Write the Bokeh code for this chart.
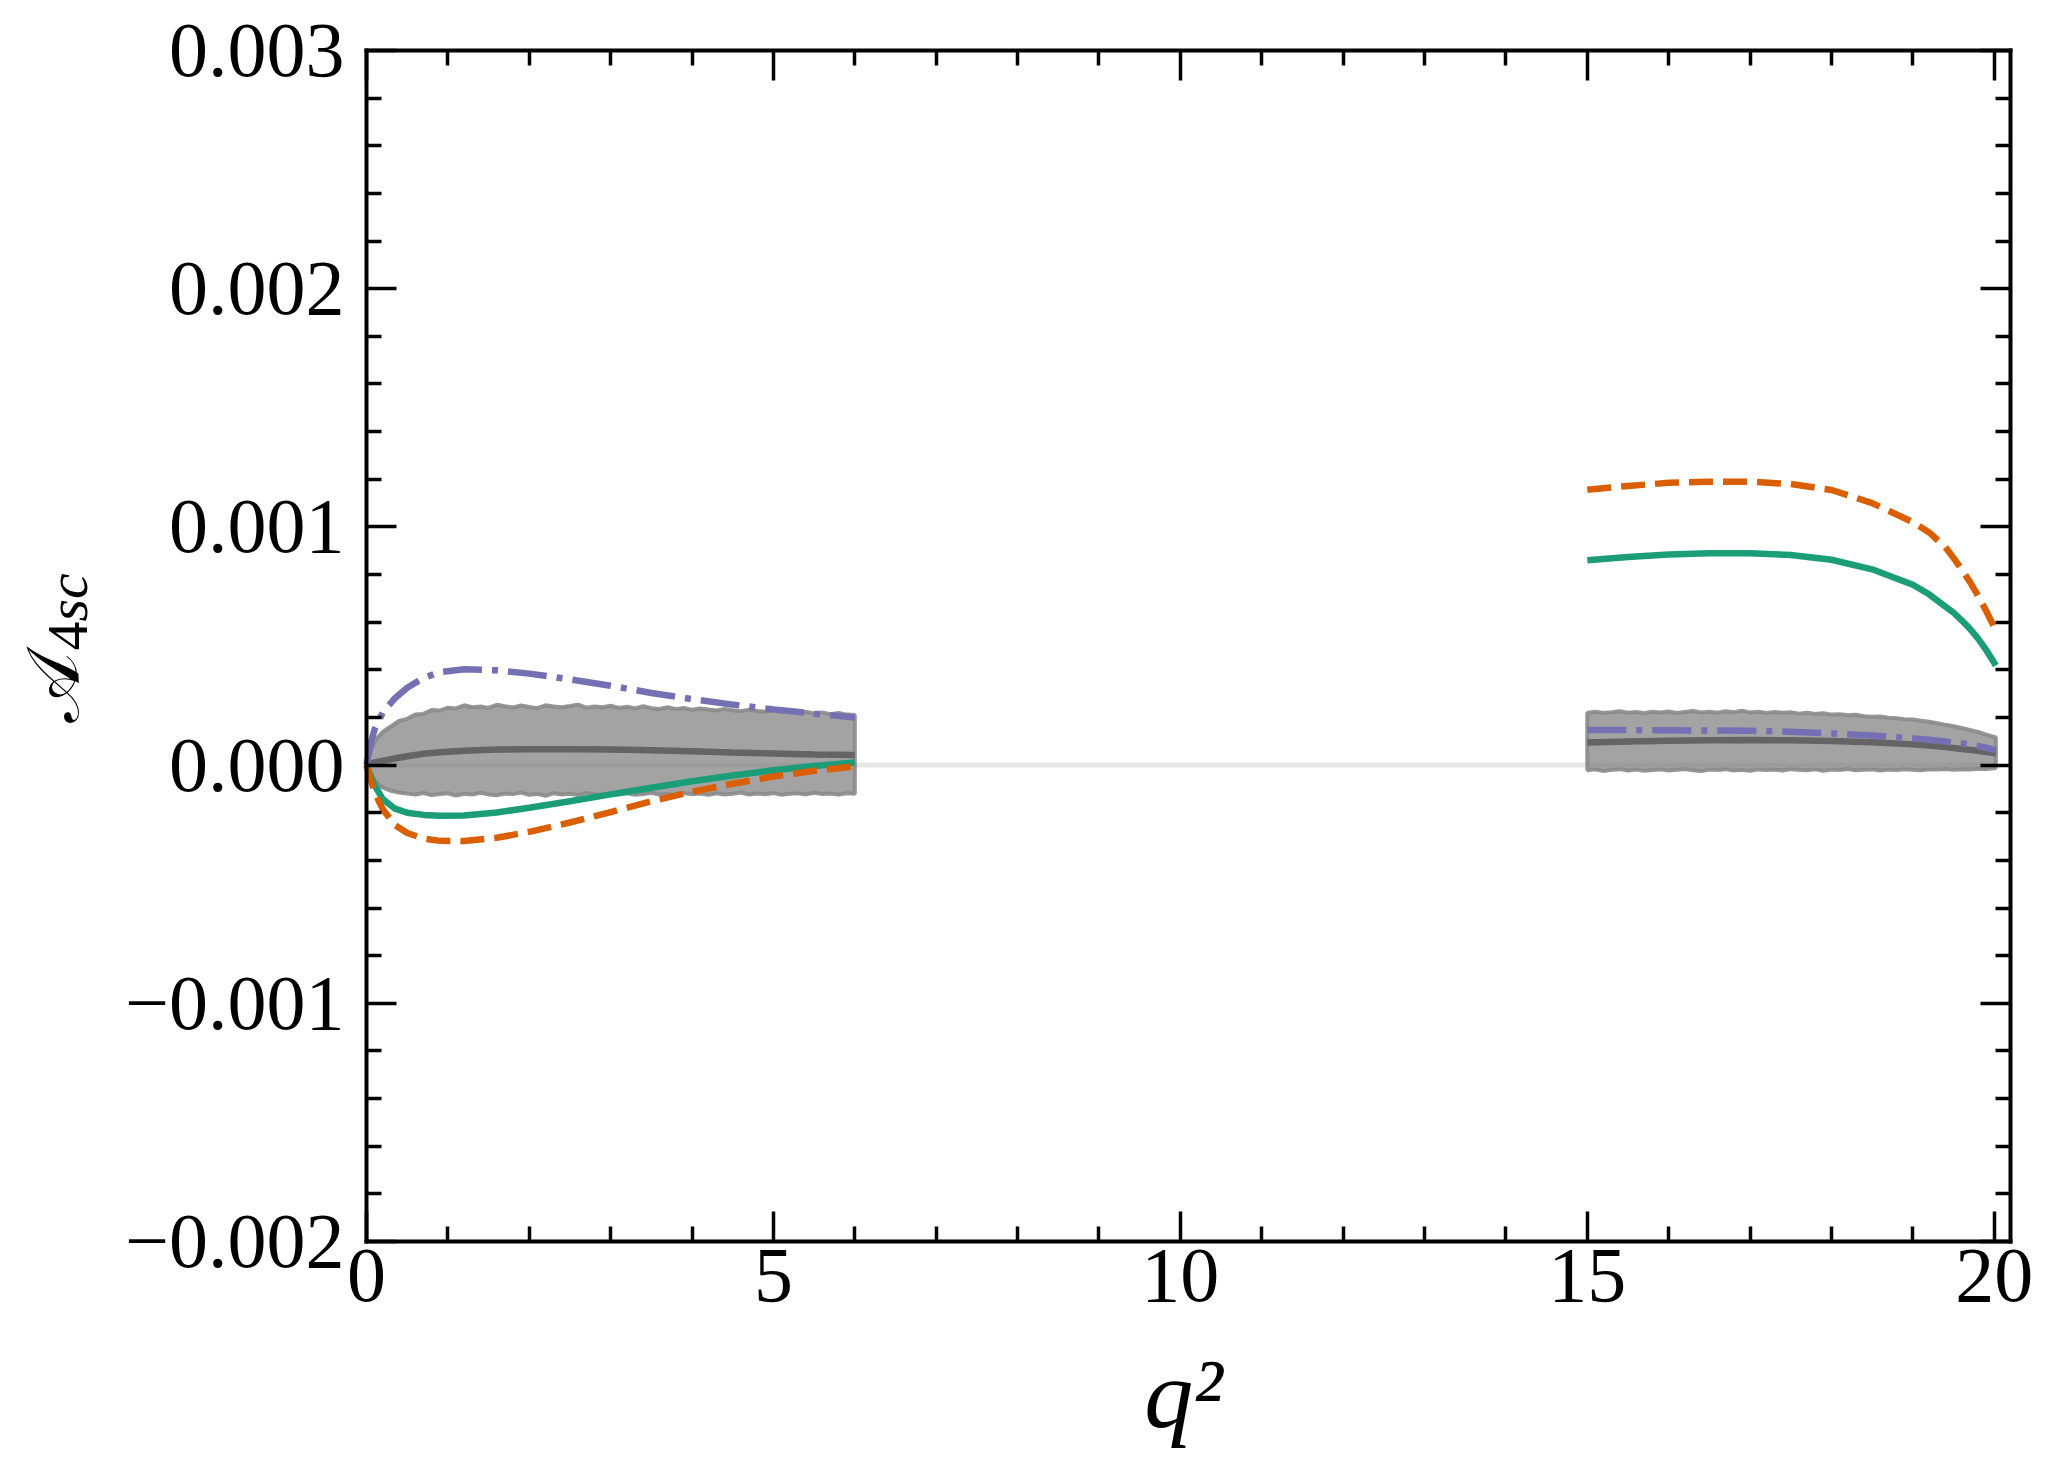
import math
from bokeh.plotting import figure
from bokeh.models import LinearAxis, FixedTicker, CustomJSTickFormatter, Range1d
from bokeh.core.properties import value
from bokeh.embed import file_html
from bokeh.resources import INLINE

# ---------------- data (asymmetry values in units of 1e-3) ----------------
q_low = [0.0, 0.05, 0.1, 0.2, 0.35, 0.5, 0.7, 0.9, 1.2, 1.6, 2.0, 2.5, 3.0, 3.5, 4.0, 4.5, 5.0, 5.5, 6.0]
purple_low = [0.0, 0.09, 0.15, 0.221, 0.281, 0.325, 0.366, 0.390, 0.402, 0.398, 0.384, 0.360, 0.333, 0.303,
              0.277, 0.254, 0.234, 0.216, 0.200]
green_low = [0.0, -0.045, -0.085, -0.143, -0.183, -0.200, -0.209, -0.213, -0.212, -0.199, -0.179, -0.152,
             -0.123, -0.095, -0.068, -0.044, -0.022, -0.004, 0.011]
orange_low = [0.0, -0.06, -0.115, -0.185, -0.252, -0.285, -0.308, -0.318, -0.319, -0.305, -0.280, -0.241,
              -0.197, -0.152, -0.112, -0.078, -0.048, -0.024, -0.005]
central_low = [0.0, 0.006, 0.011, 0.018, 0.028, 0.037, 0.048, 0.054, 0.060, 0.065, 0.067, 0.067, 0.065,
               0.062, 0.058, 0.053, 0.049, 0.045, 0.042]

q_band_low = [0.0, 0.05, 0.1, 0.15, 0.2, 0.3, 0.4, 0.5,
              0.6, 0.7, 0.8, 0.9, 1.0, 1.1, 1.2, 1.3, 1.4, 1.5, 1.6, 1.7, 1.8, 1.9, 2.0,
              2.1, 2.2, 2.3, 2.4, 2.5, 2.6, 2.7, 2.8, 2.9, 3.0, 3.1, 3.2, 3.3, 3.4, 3.5,
              3.6, 3.7, 3.8, 3.9, 4.0, 4.1, 4.2, 4.3, 4.4, 4.5, 4.6, 4.7, 4.8, 4.9, 5.0,
              5.1, 5.2, 5.3, 5.4, 5.5, 5.6, 5.7, 5.8, 5.9, 6.0]
band_low_up = [0.0, 0.058, 0.098, 0.121, 0.139, 0.162, 0.185, 0.194,
               0.212, 0.215, 0.231, 0.229, 0.241, 0.238, 0.251, 0.243, 0.246, 0.240, 0.253, 0.247, 0.242,
               0.250, 0.244, 0.239, 0.251, 0.246, 0.243, 0.248, 0.254, 0.241, 0.246, 0.243, 0.249, 0.240,
               0.245, 0.238, 0.247, 0.239, 0.236, 0.243, 0.235, 0.240, 0.232, 0.238, 0.233, 0.229, 0.236,
               0.230, 0.226, 0.233, 0.227, 0.224, 0.230, 0.222, 0.226, 0.219, 0.224, 0.217, 0.221, 0.214,
               0.219, 0.212, 0.210]
band_low_dn = [0.0, -0.040, -0.065, -0.082, -0.094, -0.108, -0.115, -0.119,
               -0.124, -0.117, -0.126, -0.121, -0.118, -0.128, -0.120, -0.124, -0.116, -0.123, -0.127,
               -0.119, -0.122, -0.115, -0.125, -0.121, -0.129, -0.118, -0.123, -0.120, -0.126, -0.117,
               -0.122, -0.127, -0.119, -0.124, -0.118, -0.125, -0.121, -0.116, -0.124, -0.120, -0.126,
               -0.117, -0.122, -0.119, -0.125, -0.118, -0.123, -0.120, -0.115, -0.124, -0.119, -0.122,
               -0.117, -0.125, -0.120, -0.118, -0.123, -0.116, -0.121, -0.119, -0.124, -0.118, -0.120]

q_high = [15.0, 15.5, 16.0, 16.5, 17.0, 17.5, 18.0, 18.5, 19.0, 19.2, 19.4, 19.5, 19.6, 19.7, 19.8, 19.9,
          20.02]
orange_high = [1.156, 1.172, 1.185, 1.190, 1.190, 1.180, 1.155, 1.100, 1.020, 0.977, 0.915, 0.870, 0.822,
               0.770, 0.712, 0.648, 0.565]
green_high = [0.860, 0.874, 0.884, 0.889, 0.889, 0.882, 0.862, 0.822, 0.757, 0.717, 0.665, 0.640, 0.608,
              0.573, 0.532, 0.484, 0.418]
purple_high = [0.147, 0.147, 0.146, 0.145, 0.144, 0.140, 0.133, 0.124, 0.112, 0.106, 0.099, 0.095, 0.091,
               0.086, 0.080, 0.073, 0.062]
central_high = [0.095, 0.099, 0.102, 0.104, 0.105, 0.104, 0.101, 0.096, 0.087, 0.082, 0.076, 0.072, 0.068,
                0.064, 0.060, 0.055, 0.050]

q_band_high = [15.0, 15.1, 15.2, 15.3, 15.4, 15.5, 15.6, 15.7, 15.8, 15.9, 16.0, 16.1, 16.2, 16.3, 16.4,
               16.5, 16.6, 16.7, 16.8, 16.9, 17.0, 17.1, 17.2, 17.3, 17.4, 17.5, 17.6, 17.7, 17.8, 17.9,
               18.0, 18.1, 18.2, 18.3, 18.4, 18.5, 18.6, 18.7, 18.8, 18.9, 19.0, 19.1, 19.2, 19.3, 19.4,
               19.5, 19.6, 19.7, 19.8, 19.9, 20.02]
band_high_up = [0.220, 0.224, 0.219, 0.222, 0.226, 0.220, 0.223, 0.218, 0.224, 0.221, 0.225, 0.219, 0.223,
                0.227, 0.221, 0.224, 0.220, 0.226, 0.222, 0.228, 0.221, 0.224, 0.219, 0.223, 0.220, 0.222,
                0.216, 0.220, 0.215, 0.218, 0.212, 0.214, 0.209, 0.211, 0.205, 0.203, 0.204, 0.199, 0.197,
                0.193, 0.191, 0.186, 0.182, 0.176, 0.169, 0.163, 0.156, 0.148, 0.139, 0.128, 0.116]
band_high_dn = [-0.022, -0.018, -0.025, -0.020, -0.017, -0.023, -0.019, -0.024, -0.021, -0.018, -0.023,
                -0.020, -0.016, -0.022, -0.025, -0.019, -0.021, -0.017, -0.023, -0.020, -0.024, -0.018,
                -0.021, -0.019, -0.023, -0.017, -0.020, -0.022, -0.018, -0.024, -0.019, -0.021, -0.016,
                -0.022, -0.020, -0.018, -0.023, -0.019, -0.021, -0.017, -0.020, -0.022, -0.018, -0.019,
                -0.016, -0.020, -0.017, -0.018, -0.015, -0.016, -0.012]

q_zero = [0.0, 20.0]
a_zero = [0.0, 0.0]

x_major = [0, 5, 10, 15, 20]
x_minor = [1, 2, 3, 4, 6, 7, 8, 9, 11, 12, 13, 14, 16, 17, 18, 19]
y_major = [-0.002, -0.001, 0.0, 0.001, 0.002, 0.003]
y_minor = [-0.0018, -0.0016, -0.0014, -0.0012, -0.0008, -0.0006, -0.0004, -0.0002,
           0.0002, 0.0004, 0.0006, 0.0008, 0.0012, 0.0014, 0.0016, 0.0018,
           0.0022, 0.0024, 0.0026, 0.0028]

x_label = "q²"
ylab_main = "𝒜"
ylab_sub_digit = "4"
ylab_sub_italic = "sc"

SCALE = 1e-3
FONT = "Liberation Serif"

# ---------------- geometry: the plot box occupies 1644 x 1191 px, placed 366 px from the left ----------------
X_MIN, X_MAX = 0.0, 20.2
Y_MIN, Y_MAX = -0.002, 0.003
FIG_W, FIG_H = 2053, 1453
BOX_L, BOX_T, BOX_W, BOX_H = 366, 50, 1644, 1191
PX_X = BOX_W / (X_MAX - X_MIN)
PX_Y = BOX_H / (Y_MAX - Y_MIN)
x_lo = X_MIN - BOX_L / PX_X
x_hi = x_lo + FIG_W / PX_X
y_hi = Y_MAX + BOX_T / PX_Y
y_lo = y_hi - FIG_H / PX_Y


def img_x(px):  # page pixel -> data x
    return x_lo + (px - 8) / PX_X


def img_y(py):  # page pixel -> data y
    return y_hi - (py - 8) / PX_Y


def sc(vals):
    return [v * SCALE for v in vals]


p = figure(width=FIG_W, height=FIG_H, min_border=0,
           x_range=Range1d(x_lo, x_hi), y_range=Range1d(y_lo, y_hi),
           output_backend="svg", toolbar_location=None, background_fill_color="white",
           border_fill_color="white", x_axis_location=None, y_axis_location=None)
p.title.visible = False
p.grid.visible = False
p.outline_line_color = None

y_fmt = CustomJSTickFormatter(code="return tick.toFixed(3).replace('-', '\u2212');")
blank_fmt = CustomJSTickFormatter(code="return '';")


def make_axis(ticks, minor, loc, bounds, show_labels, fmt=None):
    ax = LinearAxis(ticker=FixedTicker(ticks=ticks, minor_ticks=minor), fixed_location=loc, bounds=bounds)
    ax.axis_line_width = 4
    ax.axis_line_color = "black"
    ax.axis_line_cap = "square"
    ax.major_tick_in = 30
    ax.major_tick_out = 0
    ax.minor_tick_in = 15
    ax.minor_tick_out = 0
    ax.major_tick_line_width = 3.5
    ax.minor_tick_line_width = 3.5
    ax.major_tick_line_color = "black"
    ax.minor_tick_line_color = "black"
    ax.major_label_text_font = FONT
    ax.major_label_text_color = "black"
    if show_labels:
        ax.major_label_text_font_size = "78px"
        if fmt is not None:
            ax.formatter = fmt
    else:
        ax.formatter = blank_fmt
        ax.major_label_text_font_size = "0px"
        ax.major_label_standoff = 0
    return ax


xa = make_axis(x_major, x_minor, Y_MIN, (X_MIN, X_MAX), True)
xa.major_label_standoff = 8
p.add_layout(xa, "below")
ya = make_axis(y_major, y_minor, X_MIN, (Y_MIN, Y_MAX), True, y_fmt)
ya.major_label_standoff = 22
p.add_layout(ya, "left")
p.add_layout(make_axis(x_major, x_minor, Y_MAX, (X_MIN, X_MAX), False), "above")
p.add_layout(make_axis(y_major, y_minor, X_MAX, (Y_MIN, Y_MAX), False), "right")

# ---------------- data marks ----------------
p.line(q_zero, sc(a_zero), line_color="#e6e6e6", line_width=5)

for qb, up, dn in [(q_band_low, band_low_up, band_low_dn), (q_band_high, band_high_up, band_high_dn)]:
    xs = list(qb) + list(reversed(qb))
    ys = sc(up) + list(reversed(sc(dn)))
    p.patch(xs, ys, fill_color="#808080", fill_alpha=0.72, line_color="#8a8a8a", line_width=4,
            line_alpha=0.9)

for qq, c in [(q_low, central_low), (q_high, central_high)]:
    p.line(qq, sc(c), line_color="#646464", line_width=6.5)

for qq, vals in [(q_low, purple_low), (q_high, purple_high)]:
    p.line(qq, sc(vals), line_color="#7570b3", line_width=6.5, line_dash="39 10 6 10")
for qq, vals in [(q_low, green_low), (q_high, green_high)]:
    p.line(qq, sc(vals), line_color="#1b9e77", line_width=6.5)
for qq, vals in [(q_low, orange_low), (q_high, orange_high)]:
    p.line(qq, sc(vals), line_color="#d95f02", line_width=6.5, line_dash="24 10")

# ---------------- axis titles ----------------
p.text(x=[img_x(1191)], y=[img_y(1401)], text=[x_label], text_font=value(FONT), text_font_style="italic",
       text_font_size=value("98px"), text_align="center", text_baseline="alphabetic", text_color="black")
p.text(x=[img_x(60)], y=[img_y(660)], text=[ylab_main], angle=math.pi / 2, text_font=value(FONT),
       text_font_size=value("74px"), text_align="right", text_baseline="alphabetic", text_color="black")
p.text(x=[img_x(75)], y=[img_y(658)], text=[ylab_sub_digit], angle=math.pi / 2, text_font=value(FONT),
       text_font_size=value("58px"), text_align="left", text_baseline="alphabetic", text_color="black")
p.text(x=[img_x(75)], y=[img_y(629)], text=[ylab_sub_italic], angle=math.pi / 2, text_font=value(FONT),
       text_font_style="italic", text_font_size=value("58px"), text_align="left",
       text_baseline="alphabetic", text_color="black")

open("out.html", "w", encoding="utf-8").write(file_html(p, INLINE))
